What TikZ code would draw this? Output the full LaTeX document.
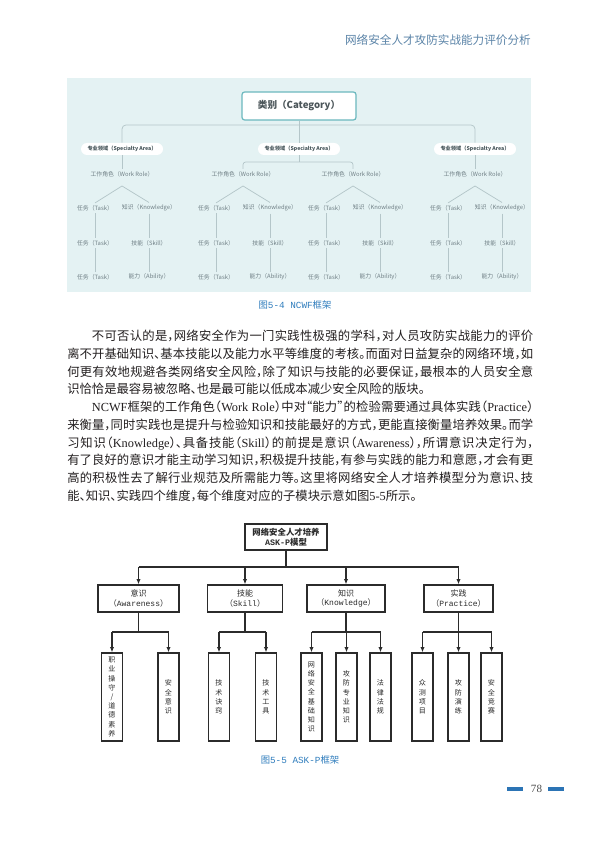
\documentclass[tikz,border=0pt]{standalone}
\usepackage{fontspec}
\setmainfont{Liberation Serif}
\newfontfamily\cjk{Noto Sans CJK SC}
\newfontfamily\cjkbody[RawFeature=+halt]{Noto Sans CJK SC}
\newfontfamily\mono{Liberation Mono}
\usetikzlibrary{arrows.meta, positioning}
\XeTeXlinebreaklocale "zh"
\XeTeXlinebreakskip=0pt plus 1.5pt minus 0.15pt
\newcommand{\entxt}[1]{{\rmfamily #1}}

\definecolor{headblue}{HTML}{5B84A8}
\definecolor{capblue}{HTML}{2F7DBD}
\definecolor{barblue}{HTML}{2C74B5}
\definecolor{bgcyan}{HTML}{E4F2F3}
\definecolor{linegray}{HTML}{B4C6C9}
\definecolor{labgray}{HTML}{6F7F85}
\definecolor{areagray}{HTML}{46555A}
\definecolor{catteal}{HTML}{6BB8BE}
\definecolor{catgray}{HTML}{4B5559}
\definecolor{bodyblack}{HTML}{231F20}
\definecolor{askblack}{HTML}{2B2B2B}

\tikzset{
  tline/.style={draw=linegray, line width=0.55pt},
  ncwfcat/.style={draw=catteal, line width=0.9pt, fill=white, rounded corners=2pt,
    minimum width=85.5pt, minimum height=21pt, text=catgray,
    font=\cjk\bfseries\fontsize{7.2}{8}\selectfont},
  ncwfarea/.style={fill=white, rounded corners=4.5pt, minimum width=61.5pt,
    minimum height=9pt, inner sep=0pt, text=areagray,
    font=\cjk\bfseries\fontsize{3.9}{4.5}\selectfont},
  ncwflab/.style={inner xsep=0pt, inner ysep=1.5pt, text=labgray,
    font=\cjk\fontsize{4.4}{5}\selectfont},
  caption/.style={text=capblue, inner sep=0pt, font=\cjk\fontsize{7}{8}\selectfont},
  bodytext/.style={anchor=north west, inner sep=0pt, text width=349.5pt, align=justify,
    text=bodyblack, font=\cjkbody\fontsize{9.25}{13.3}\selectfont},
  asktop/.style={draw=askblack, line width=0.9pt, minimum width=61.5pt, minimum height=19.5pt,
    align=center, inner sep=0pt, text=askblack, font=\cjk\bfseries\fontsize{6.3}{7.5}\selectfont},
  askdim/.style={draw=askblack, line width=0.9pt, minimum height=20.25pt, align=center,
    inner sep=0pt, text=askblack, font=\cjk\fontsize{6}{7}\selectfont},
  askleaf/.style={draw=askblack, line width=0.9pt, minimum width=15.75pt, minimum height=66pt,
    align=center, inner sep=0pt, text=askblack, font=\cjk\fontsize{5.3}{6.9}\selectfont},
  askline/.style={draw=askblack, line width=0.8pt},
  askarr/.style={askline, -{Latex[length=4pt,width=3.2pt]}},
  pagebar/.style={fill=barblue, minimum width=12pt, minimum height=3pt, inner sep=0pt},
}

\begin{document}
\begin{tikzpicture}[x=0.75pt, y=-0.75pt]
  \fill[white] (0,0) rectangle (600,848);
  \useasboundingbox (0,0) rectangle (600,848);

  % running head
  \node[anchor=east, inner sep=0pt, text=headblue, font=\cjk\fontsize{8.7}{10}\selectfont] (head) at (531,40) {网络安全人才攻防实战能力评价分析};

  % figure 5-4
  \fill[bgcyan] (67,78) rectangle (531,292);
  \node[ncwfcat] (cat) at (299,106) {类别（Category）};
  \node[ncwfarea] (sa1) at (122,149) {专业领域（Specialty Area）};
  \node[ncwfarea] (sa2) at (299,149) {专业领域（Specialty Area）};
  \node[ncwfarea] (sa3) at (475,149) {专业领域（Specialty Area）};
  \foreach \n/\x in {a/122, b/243, c/353, d/475}{
    \node[ncwflab] (wr\n) at (\x,174) {工作角色（Work Role）};
    \coordinate (fk\n) at (\x,186);
    \node[ncwflab] (ta\n) at (\x-27,208) {任务（Task）};
    \node[ncwflab] (tb\n) at (\x-27,243) {任务（Task）};
    \node[ncwflab] (tc\n) at (\x-27,277) {任务（Task）};
    \node[ncwflab] (ka\n) at (\x+27,208) {知识（Knowledge）};
    \node[ncwflab] (kb\n) at (\x+27,243) {技能（Skill）};
    \node[ncwflab] (kc\n) at (\x+27,277) {能力（Ability）};
    \draw[tline] (fk\n) -- (ta\n.north);
    \draw[tline] (fk\n) -- (ka\n.north);
    \draw[tline] (ta\n) -- (tb\n);
    \draw[tline] (tb\n) -- (tc\n);
    \draw[tline] (ka\n) -- (kb\n);
    \draw[tline] (kb\n) -- (kc\n);
  }
  \coordinate (hub) at (299,125);
  \coordinate (mid) at (299,162);
  \draw[tline, rounded corners=3pt] (sa1.north) |- (hub) -| (sa3.north);
  \draw[tline] (cat.south) -- (sa2.north);
  \draw[tline] (sa2.south) -- (mid);
  \draw[tline, rounded corners=2pt] (wrb.north) |- (mid) -| (wrc.north);
  \draw[tline] (sa1.south) -- (wra.north);
  \draw[tline] (sa3.south) -- (wrd.north);
  \node[caption] (cap1) at (295,305) {图{\mono 5-4 NCWF}框架};

  % body text
  \node[bodytext] (para) at (67,330) {\hspace*{2em}不可否认的是，网络安全作为一门实践性极强的学科，对人员攻防实战能力的评价\linebreak
离不开基础知识、基本技能以及能力水平等维度的考核。而面对日益复杂的网络环境，如\linebreak
何更有效地规避各类网络安全风险，除了知识与技能的必要保证，最根本的人员安全意\linebreak
识恰恰是最容易被忽略、也是最可能以低成本减少安全风险的版块。\par
\hspace*{2em}\entxt{NCWF}框架的工作角色（\entxt{Work Role}）中对“能力”的检验需要通过具体实践（\entxt{Practice}）\linebreak
来衡量，同时实践也是提升与检验知识和技能最好的方式，更能直接衡量培养效果。而学\linebreak
习知识（\entxt{Knowledge}）、具备技能（\entxt{Skill}）的前提是意识（\entxt{Awareness}），所谓意识决定行为，\linebreak
有了良好的意识才能主动学习知识，积极提升技能，有参与实践的能力和意愿，才会有更\linebreak
高的积极性去了解行业规范及所需能力等。这里将网络安全人才培养模型分为意识、技\linebreak
能、知识、实践四个维度，每个维度对应的子模块示意如图\entxt{5-5}所示。};

  % figure 5-5
  \node[asktop] (model) at (286,537) {网络安全人才培养\\{\mono ASK-P}模型};
  \foreach \n/\x/\w/\a/\b in {aw/138.5/60.75pt/意识/Awareness, sk/245/56.25pt/技能/Skill,
      kn/346/58.5pt/知识/Knowledge, pr/458.5/51.75pt/实践/Practice}{
    \node[askdim, minimum width=\w] (\n) at (\x,598.5) {\a\\（{\mono \b}）};
  }
  \node[askleaf] (l1) at (112,697) {职\\业\\操\\守\\/\\道\\德\\素\\养};
  \node[askleaf] (l2) at (168.5,697) {安\\全\\意\\识};
  \node[askleaf] (l3) at (219,697) {技\\术\\诀\\窍};
  \node[askleaf] (l4) at (266,697) {技\\术\\工\\具};
  \node[askleaf] (l5) at (311.5,697) {网\\络\\安\\全\\基\\础\\知\\识};
  \node[askleaf] (l6) at (346.5,697) {攻\\防\\专\\业\\知\\识};
  \node[askleaf] (l7) at (380.5,697) {法\\律\\法\\规};
  \node[askleaf] (l8) at (422.5,697) {众\\测\\项\\目};
  \node[askleaf] (l9) at (458.5,697) {攻\\防\\演\\练};
  \node[askleaf] (l10) at (491.5,697) {安\\全\\竞\\赛};

  \coordinate (btop) at (286,567);
  \draw[askline] (model.south) -- (btop);
  \draw[askline] (aw.north |- btop) -- (pr.north |- btop);
  \foreach \n in {aw, sk, kn, pr}
    \draw[askarr] (\n.north |- btop) -- (\n.north);

  \coordinate (baw) at (138.5,632);
  \coordinate (bsk) at (245,632);
  \coordinate (bkn) at (346,632);
  \coordinate (bpr) at (458.5,632);
  \draw[askline] (aw.south) -- (baw);
  \draw[askline] (sk.south) -- (bsk);
  \draw[askline] (kn.south) -- (bkn);
  \draw[askline] (pr.south) -- (bpr);
  \draw[askline] (l1.north |- baw) -- (l2.north |- baw);
  \draw[askline] (l3.north |- bsk) -- (l4.north |- bsk);
  \draw[askline] (l5.north |- bkn) -- (l7.north |- bkn);
  \draw[askline] (l8.north |- bpr) -- (l10.north |- bpr);
  \foreach \l/\b in {l1/baw, l2/baw, l3/bsk, l4/bsk, l5/bkn, l6/bkn, l7/bkn, l8/bpr, l9/bpr, l10/bpr}
    \draw[askarr] (\l.north |- \b) -- (\l.north);
  \node[caption] (cap2) at (300,760) {图{\mono 5-5 ASK-P}框架};

  % page number
  \node[inner sep=0pt, text=black!70, font=\rmfamily\fontsize{8.3}{10}\selectfont] (pnum) at (536.5,789) {78};
  \node[pagebar, left=5.5pt of pnum] (barl) {};
  \node[pagebar, right=4pt of pnum] (barr) {};
\end{tikzpicture}
\end{document}
